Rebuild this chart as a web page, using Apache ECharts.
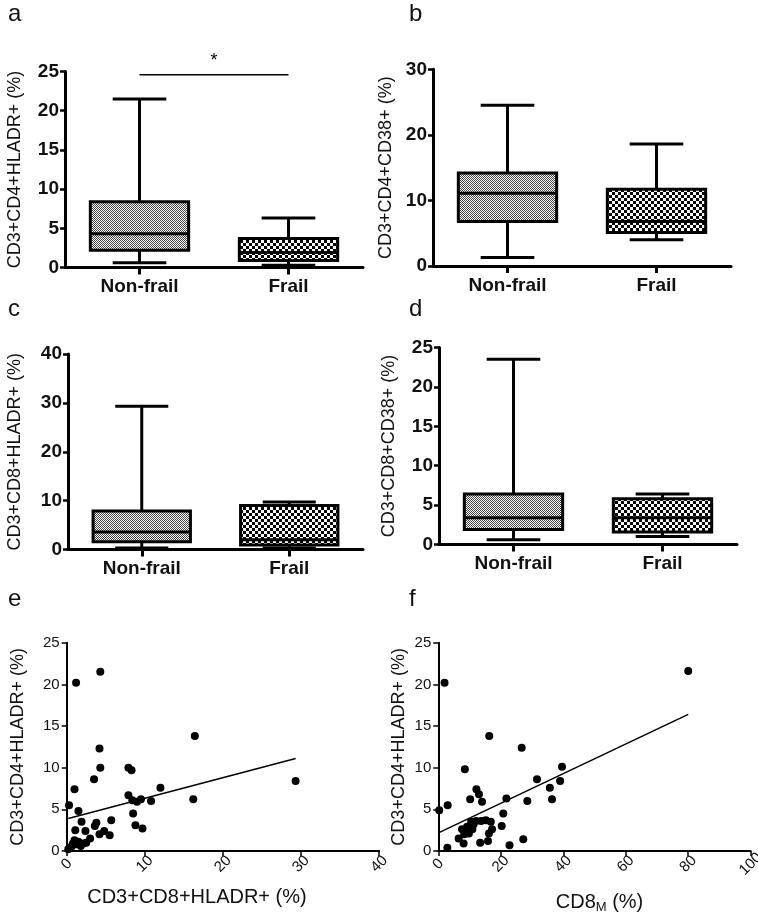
<!DOCTYPE html>
<html>
<head>
<meta charset="utf-8">
<script src="https://cdn.jsdelivr.net/npm/echarts@6/dist/echarts.min.js"></script>
<style>
html,body{margin:0;padding:0;background:#fff;}
#chart{width:758px;height:917px;}
</style>
</head>
<body>
<div id="chart"></div>
<script>
// ---------- data ----------
const categories = ['Non-frail', 'Frail'];
// [min, q1, median, q3, max]
const aNonFrail = [0.6, 2.2, 4.3, 8.4, 21.5];
const aFrail    = [0.3, 0.9, 1.9, 3.7, 6.3];
const bNonFrail = [1.3, 6.8, 11.1, 14.2, 24.5];
const bFrail    = [4.0, 5.1, 6.8, 11.7, 18.6];
const cNonFrail = [0.3, 1.6, 3.6, 7.9, 29.3];
const cFrail    = [0.3, 0.9, 2.0, 9.0, 9.7];
const dNonFrail = [0.6, 1.9, 3.4, 6.4, 23.5];
const dFrail    = [1.0, 1.6, 3.4, 5.8, 6.4];
const aSignifY = 24.6;
const aSignifLabel = '*';

// panel e: [CD3+CD8+HLADR+, CD3+CD4+HLADR+]
const ePoints = [[4.3,21.5],[1.2,20.2],[16.4,13.8],[4.2,12.3],[4.3,10.0],[7.9,10.0],[8.3,9.7],[3.5,8.6],[29.3,8.4],[12.0,7.6],[1.0,7.4],[7.9,6.7],[8.4,6.1],[9.0,5.9],[9.5,6.2],[10.8,6.0],[16.2,6.2],[0.3,5.5],[1.5,4.8],[8.5,4.5],[1.9,3.5],[3.8,3.4],[5.7,3.7],[8.8,3.1],[9.7,2.7],[3.6,3.0],[1.1,2.5],[2.4,2.4],[4.8,2.4],[4.2,2.0],[5.5,1.9],[3.0,1.5],[1.0,1.3],[1.5,1.1],[2.1,0.9],[0.6,0.5],[0.2,0.2],[1.2,0.8],[1.8,0.6],[2.5,1.0],[0.8,0.9]];
const eFitX = [0.2, 29.3];
const eFitY = [3.9, 11.1];

// panel f: [CD8M, CD3+CD4+HLADR+]
const fPoints = [[80,21.6],[2.0,20.2],[16.3,13.8],[26.7,12.4],[8.5,9.8],[39.6,10.1],[39.0,8.4],[31.6,8.6],[35.7,7.6],[12.2,7.4],[13.0,6.8],[10.2,6.2],[14.0,5.9],[21.8,6.3],[28.5,6.0],[36.4,6.2],[0.3,4.9],[3.0,5.5],[20.8,4.5],[20.3,3.0],[2.9,0.4],[22.8,0.7],[27.2,1.4],[13.4,1.0],[15.9,1.2],[6.5,1.5],[8.1,0.9],[7.6,2.6],[9.2,2.9],[10.9,2.6],[9.8,2.1],[12.1,3.6],[13.7,3.6],[15.2,3.7],[16.8,3.5],[17.2,2.6],[16.2,2.1],[9.0,2.4],[11.3,3.2],[10.5,3.5],[8.3,2.0]];
const fFitX = [0.2, 80];
const fFitY = [2.2, 16.4];

const yTitles = ['CD3+CD4+HLADR+ (%)', 'CD3+CD4+CD38+ (%)', 'CD3+CD8+HLADR+ (%)', 'CD3+CD8+CD38+ (%)', 'CD3+CD4+HLADR+ (%)', 'CD3+CD4+HLADR+ (%)'];
const eXTitle = 'CD3+CD8+HLADR+ (%)';
const panelLetters = ['a','b','c','d','e','f'];

// ---------- helpers ----------
const FONT = '"Liberation Sans", Arial, Helvetica, sans-serif';

function makePattern(size, cell, fg) {
  const c = document.createElement('canvas');
  c.width = size; c.height = size;
  const ctx = c.getContext('2d');
  ctx.fillStyle = '#fff';
  ctx.fillRect(0, 0, size, size);
  ctx.fillStyle = fg;
  ctx.fillRect(0, 0, cell, cell);
  ctx.fillRect(cell, cell, cell, cell);
  return c;
}
const fineCanvas = makePattern(2, 1, '#444');
const coarseCanvas = makePattern(6, 3, '#000');

function renderBox(params, api) {
  const cat = api.value(0);
  const mn = api.value(1), q1 = api.value(2), md = api.value(3), q3 = api.value(4), mx = api.value(5);
  const band = api.size([1, 0])[0];
  const cx = api.coord([cat, md])[0];
  const yMin = api.coord([cat, mn])[1];
  const yQ1 = api.coord([cat, q1])[1];
  const yMd = api.coord([cat, md])[1];
  const yQ3 = api.coord([cat, q3])[1];
  const yMax = api.coord([cat, mx])[1];
  const bw = band * 0.66;
  const cw = band * 0.36;
  const pat = cat === 0 ? fineCanvas : coarseCanvas;
  const lw = 3;
  const st = {stroke: '#000', lineWidth: lw};
  return {
    type: 'group',
    children: [
      {type: 'line', shape: {x1: cx, y1: yMax, x2: cx, y2: yQ3}, style: st},
      {type: 'line', shape: {x1: cx, y1: yQ1, x2: cx, y2: yMin}, style: st},
      {type: 'line', shape: {x1: cx - cw / 2, y1: yMax, x2: cx + cw / 2, y2: yMax}, style: st},
      {type: 'line', shape: {x1: cx - cw / 2, y1: yMin, x2: cx + cw / 2, y2: yMin}, style: st},
      {type: 'rect', shape: {x: cx - bw / 2, y: yQ3, width: bw, height: yQ1 - yQ3},
        style: {fill: {image: pat, repeat: 'repeat'}, stroke: '#000', lineWidth: lw}},
      {type: 'line', shape: {x1: cx - bw / 2, y1: yMd, x2: cx + bw / 2, y2: yMd}, style: st}
    ]
  };
}

function renderSignif(params, api) {
  const y = api.value(2);
  const p1 = api.coord([api.value(0), y]);
  const p2 = api.coord([api.value(1), y]);
  return {
    type: 'group',
    children: [
      {type: 'line', shape: {x1: p1[0], y1: p1[1], x2: p2[0], y2: p2[1]}, style: {stroke: '#000', lineWidth: 1.5}},
      {type: 'text', x: (p1[0] + p2[0]) / 2, y: p1[1] - 14,
        style: {text: aSignifLabel, fill: '#000', font: '18px ' + FONT, textAlign: 'center', textVerticalAlign: 'middle'}}
    ]
  };
}

const grids = [
  {left: 65, top: 71.5, width: 298, height: 196},
  {left: 433, top: 69.3, width: 298, height: 196.7},
  {left: 68, top: 354, width: 295, height: 195.5},
  {left: 439, top: 347.5, width: 298, height: 197},
  {left: 66.7, top: 642.7, width: 312.5, height: 208.3},
  {left: 438.3, top: 642.7, width: 312.4, height: 208.3}
].map(g => Object.assign({containLabel: false, outerBoundsMode: 'none'}, g));

const yMax = [25, 30, 40, 25, 25, 25];
const yInt = [5, 10, 10, 5, 5, 5];
const yGap = [41, 38, 44, 41, 40, 30];

const yAxes = grids.map((g, i) => {
  const box = i < 4;
  return {
    type: 'value', gridIndex: i, min: 0, max: yMax[i], interval: yInt[i],
    name: yTitles[i], nameLocation: 'middle', nameGap: yGap[i],
    nameTextStyle: {fontFamily: FONT, fontSize: 18, color: '#111'},
    axisLine: {show: true, lineStyle: {color: '#000', width: box ? 3 : 2}},
    axisTick: {show: true, inside: false, length: 5, lineStyle: {color: '#000', width: box ? 2.5 : 1.5}},
    axisLabel: {margin: box ? 6 : 7, fontFamily: FONT, fontSize: box ? 19 : 15, fontWeight: box ? 'bold' : 'normal', color: '#111'},
    splitLine: {show: false}
  };
});

const xAxes = [];
for (let i = 0; i < 4; i++) {
  xAxes.push({
    type: 'category', gridIndex: i, data: categories, boundaryGap: true,
    axisLine: {show: true, onZero: false, lineStyle: {color: '#000', width: 3}},
    axisTick: {show: true, alignWithLabel: true, length: 7, lineStyle: {color: '#000', width: 3}},
    axisLabel: {margin: 10, fontFamily: FONT, fontSize: 19, fontWeight: 'bold', color: '#111'},
    splitLine: {show: false}
  });
}
xAxes.push({
  type: 'value', gridIndex: 4, min: 0, max: 40, interval: 10,
  name: eXTitle, nameLocation: 'middle', nameGap: 36,
  nameTextStyle: {fontFamily: FONT, fontSize: 20, color: '#111', padding: [0, 52, 0, 0]},
  axisLine: {show: true, onZero: false, lineStyle: {color: '#000', width: 2}},
  axisTick: {show: true, length: 5, lineStyle: {color: '#000', width: 1.5}},
  axisLabel: {rotate: 45, align: 'center', verticalAlign: 'middle', margin: 13, fontFamily: FONT, fontSize: 15, color: '#111'},
  splitLine: {show: false}
});
xAxes.push({
  type: 'value', gridIndex: 5, min: 0, max: 100, interval: 20,
  name: 'CD8{sub|M} (%)', nameLocation: 'middle', nameGap: 40,
  nameTextStyle: {fontFamily: FONT, fontSize: 20, color: '#111', padding: [0, 0, 0, 10],
    rich: {sub: {fontFamily: FONT, fontSize: 13, color: '#111', verticalAlign: 'bottom', padding: [10, 0, 0, 0]}}},
  axisLine: {show: true, onZero: false, lineStyle: {color: '#000', width: 2}},
  axisTick: {show: true, length: 5, lineStyle: {color: '#000', width: 1.5}},
  axisLabel: {rotate: 45, align: 'center', verticalAlign: 'middle', margin: 13, fontFamily: FONT, fontSize: 15, color: '#111'},
  splitLine: {show: false}
});

const boxSets = [[aNonFrail, aFrail], [bNonFrail, bFrail], [cNonFrail, cFrail], [dNonFrail, dFrail]];
const series = [];
boxSets.forEach((set, i) => {
  series.push({
    type: 'custom', xAxisIndex: i, yAxisIndex: i, renderItem: renderBox, clip: false,
    encode: {x: 0, y: [1, 2, 3, 4, 5]},
    data: set.map((v, k) => [k].concat(v)),
    silent: true
  });
});
series.push({
  type: 'custom', xAxisIndex: 0, yAxisIndex: 0, renderItem: renderSignif, clip: false,
  encode: {x: [0, 1], y: 2},
  data: [[0, 1, aSignifY]], silent: true
});
series.push({
  type: 'scatter', xAxisIndex: 4, yAxisIndex: 4, data: ePoints,
  symbol: 'circle', symbolSize: 8, itemStyle: {color: '#000', opacity: 1}, silent: true
});
series.push({
  type: 'line', xAxisIndex: 4, yAxisIndex: 4, data: eFitX.map((x, k) => [x, eFitY[k]]),
  symbol: 'none', lineStyle: {color: '#000', width: 1.5}, silent: true
});
series.push({
  type: 'scatter', xAxisIndex: 5, yAxisIndex: 5, data: fPoints,
  symbol: 'circle', symbolSize: 8, itemStyle: {color: '#000', opacity: 1}, silent: true
});
series.push({
  type: 'line', xAxisIndex: 5, yAxisIndex: 5, data: fFitX.map((x, k) => [x, fFitY[k]]),
  symbol: 'none', lineStyle: {color: '#000', width: 1.5}, silent: true
});

const letterPos = [[8, 2], [409, 2], [8, 297], [409, 297], [8, 587], [409, 587]];
const graphic = panelLetters.map((t, i) => ({
  type: 'text', left: letterPos[i][0], top: letterPos[i][1],
  style: {text: t, font: '24px ' + FONT, fill: '#111'}
}));

const chart = echarts.init(document.getElementById('chart'), null, {renderer: 'canvas'});
chart.setOption({
  animation: false,
  backgroundColor: '#fff',
  grid: grids,
  xAxis: xAxes,
  yAxis: yAxes,
  series: series,
  graphic: graphic
});
</script>
</body>
</html>
